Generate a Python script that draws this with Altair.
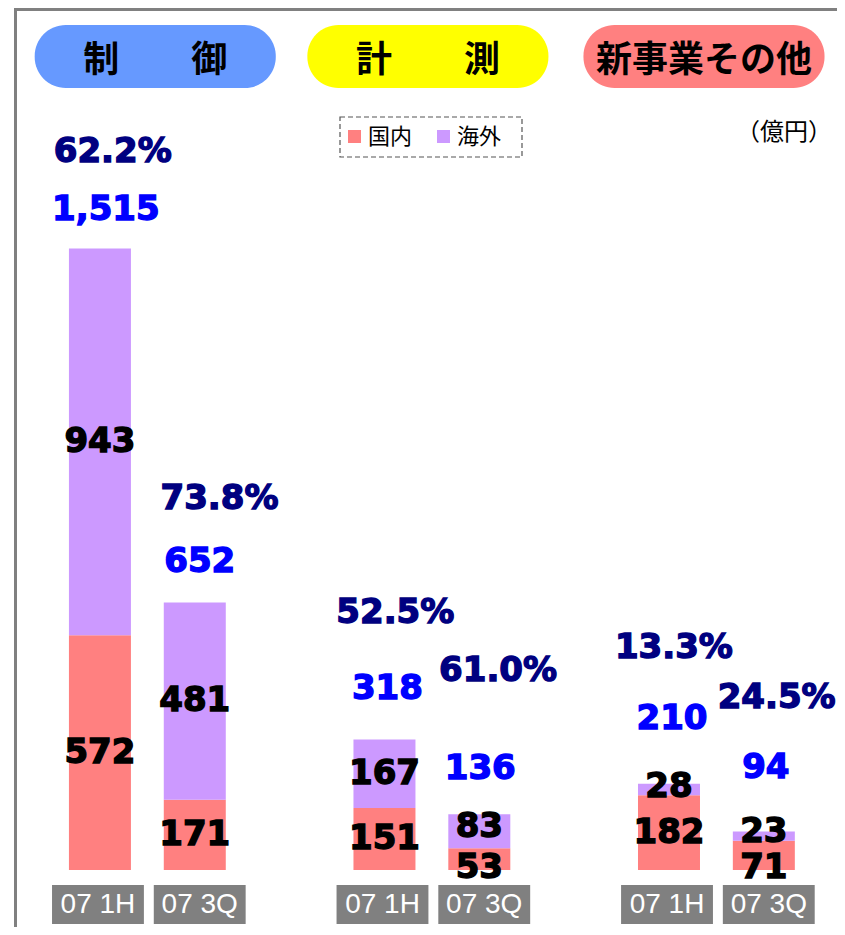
import altair as alt
import pandas as pd

# ---------------- data ----------------
segments = ["制御", "計測", "新事業その他"]
segment_titles = ["制　　御", "計　　測", "新事業その他"]
periods = ["07 1H", "07 3Q", "07 1H", "07 3Q", "07 1H", "07 3Q"]
domestic = [572, 171, 151, 53, 182, 71]
overseas = [943, 481, 167, 83, 28, 23]
totals = [1515, 652, 318, 136, 210, 94]
overseas_ratio = ["62.2%", "73.8%", "52.5%", "61.0%", "13.3%", "24.5%"]
legend_labels = ["国内", "海外"]
unit_label = "（億円）"

# ---------------- layout (pixels / slots) ----------------
PLOT_W, PLOT_H = 829, 919
PX_PER_SLOT = 96
FIRST_CENTER_PX = 88
BASE_PX = 862
PX_PER_UNIT = 0.41023
slots = [0, 1, 3, 4, 6, 7]
total_gap_px = [39, 41, 51, 45, 65, 63]
total_dx_px = [6, 5, 3, 1, 3, 2]
pct_gap_px = [97, 104, 127, 143, 136, 133]
pct_dx_px = [13, 25, 11, 19, 5, 13]
dom_dy_px = [0, 0, 0, 9, 0, 13]      # label nudges (down = +)
ovs_dy_px = [0, 0, 0, -4, -3, -4]
box_dx_px = [-2, 5, -2, 5, -2, 5]
box_half_px = 46.5
pill_center = [0.583, 3.458, 6.369]
pill_half = 1.271

x_dom = [-FIRST_CENTER_PX / PX_PER_SLOT, (PLOT_W - FIRST_CENTER_PX) / PX_PER_SLOT]
y_dom = [-(PLOT_H - BASE_PX) / PX_PER_UNIT, BASE_PX / PX_PER_UNIT]
xs = alt.Scale(domain=x_dom, nice=False, zero=False)
ys = alt.Scale(domain=y_dom, nice=False, zero=False)


def X(f):
    return alt.X(f, scale=xs, axis=None)


def Y(f):
    return alt.Y(f, scale=ys, axis=None)


COL_DOM = "#FF8080"
COL_OVS = "#CC99FF"
NUMFONT = "DejaVu Sans"

rows = []
for i in range(6):
    rows.append(dict(slot=slots[i], kind=legend_labels[0], val=domestic[i],
                     y0=0, y1=domestic[i],
                     mid=domestic[i] / 2 - dom_dy_px[i] / PX_PER_UNIT, fillc=COL_DOM))
    rows.append(dict(slot=slots[i], kind=legend_labels[1], val=overseas[i],
                     y0=domestic[i], y1=domestic[i] + overseas[i],
                     mid=domestic[i] + overseas[i] / 2 - ovs_dy_px[i] / PX_PER_UNIT,
                     fillc=COL_OVS))
seg_df = pd.DataFrame(rows)

box_c = [s + d / PX_PER_SLOT for s, d in zip(slots, box_dx_px)]
bar_df = pd.DataFrame(dict(
    slot=slots, period=periods, box_c=box_c,
    total_lab=[f"{t:,}" for t in totals], ratio=overseas_ratio,
    total_y=[t + g / PX_PER_UNIT for t, g in zip(totals, total_gap_px)],
    total_x=[s + d / PX_PER_SLOT for s, d in zip(slots, total_dx_px)],
    pct_y=[t + g / PX_PER_UNIT for t, g in zip(totals, pct_gap_px)],
    pct_x=[s + d / PX_PER_SLOT for s, d in zip(slots, pct_dx_px)],
    box_x=[c - box_half_px / PX_PER_SLOT for c in box_c],
    box_x2=[c + box_half_px / PX_PER_SLOT for c in box_c],
))

pill_df = pd.DataFrame(dict(
    title=segment_titles, cx=pill_center,
    x1=[c - pill_half for c in pill_center], x2=[c + pill_half for c in pill_center],
    fillc=["#6699FF", "#FFFF00", "#FF8080"],
))

# manual legend (pixel layout)
leg_df = pd.DataFrame(dict(
    label=legend_labels, fillc=[COL_DOM, COL_OVS],
    sx=[340, 429], sx2=[353, 442], tx=[360, 449],
))

base = alt.Chart(seg_df)

bars = base.mark_bar(size=62).encode(
    x=X("slot:Q"), y=Y("y0:Q"), y2="y1:Q",
    fill=alt.Fill("fillc:N", scale=None),
)

seg_text = base.mark_text(font=NUMFONT, fontSize=34, fontWeight="bold", color="#000000",
                          stroke="#000000", strokeWidth=1.4, baseline="middle").encode(
    x=X("slot:Q"), y=Y("mid:Q"), text="val:N")

bc = alt.Chart(bar_df)
tot_text = bc.mark_text(font=NUMFONT, fontSize=34, fontWeight="bold", color="#0000FF",
                        stroke="#0000FF", strokeWidth=1.4, baseline="middle").encode(
    x=X("total_x:Q"), y=Y("total_y:Q"), text="total_lab:N")
pct_text = bc.mark_text(font=NUMFONT, fontSize=34, fontWeight="bold", color="#000080",
                        stroke="#000080", strokeWidth=1.4, baseline="middle").encode(
    x=X("pct_x:Q"), y=Y("pct_y:Q"), text="ratio:N")

cat_box = bc.mark_rect(color="#808080").encode(
    x=X("box_x:Q"), x2="box_x2:Q",
    y=alt.value(877), y2=alt.value(916))
cat_text = bc.mark_text(font="Liberation Sans", fontSize=28, color="#FFFFFF",
                        baseline="middle").encode(
    x=X("box_c:Q"), y=alt.value(897), text="period:N")

pc = alt.Chart(pill_df)
pills = pc.mark_rect(cornerRadius=31).encode(
    x=X("x1:Q"), x2="x2:Q", y=alt.value(17), y2=alt.value(80),
    fill=alt.Fill("fillc:N", scale=None))
pill_text = pc.mark_text(font="Noto Sans CJK JP", fontSize=36, fontWeight="bold",
                         color="#000000", baseline="middle").encode(
    x=X("cx:Q"), y=alt.value(53), text="title:N")

unit_df = pd.DataFrame(dict(label=[unit_label]))
unit_text = alt.Chart(unit_df).mark_text(font="Noto Sans CJK JP", fontSize=24,
                                         color="#000000", baseline="middle").encode(
    x=alt.value(776), y=alt.value(125), text="label:N")

legend_box = alt.Chart(unit_df).mark_rect(fill="#FFFFFF", fillOpacity=0, stroke="#555555",
                                          strokeWidth=1.2, strokeDash=[5, 3]).encode(
    x=alt.value(332), x2=alt.value(514), y=alt.value(109), y2=alt.value(149))
lc = alt.Chart(leg_df)
legend_sq = lc.mark_rect().encode(
    x=alt.X("sx:Q", scale=None, axis=None), x2="sx2:Q",
    y=alt.value(122), y2=alt.value(135),
    fill=alt.Fill("fillc:N", scale=None),
)
legend_tx = lc.mark_text(font="Noto Sans CJK JP", fontSize=22, color="#000000",
                         align="left", baseline="middle").encode(
    x=alt.X("tx:Q", scale=None, axis=None), y=alt.value(129), text="label:N")

frame_df = pd.DataFrame(dict(a=[0]))
frame_top = alt.Chart(frame_df).mark_rect(color="#808080").encode(
    x=alt.value(6), x2=alt.value(PLOT_W), y=alt.value(0), y2=alt.value(3))
frame_left = alt.Chart(frame_df).mark_rect(color="#808080").encode(
    x=alt.value(6), x2=alt.value(9), y=alt.value(0), y2=alt.value(PLOT_H))

chart = alt.layer(
    frame_top, frame_left, pills, pill_text, unit_text, legend_box, legend_sq, legend_tx,
    bars, seg_text, tot_text, pct_text, cat_box, cat_text,
).properties(
    width=PLOT_W, height=PLOT_H,
    autosize=alt.AutoSizeParams(type="none"),
    padding={"left": 0, "top": 0, "right": 0, "bottom": 0},
).configure_view(strokeWidth=0)

chart.save("out.html", embed_options={"renderer": "svg", "actions": False})
